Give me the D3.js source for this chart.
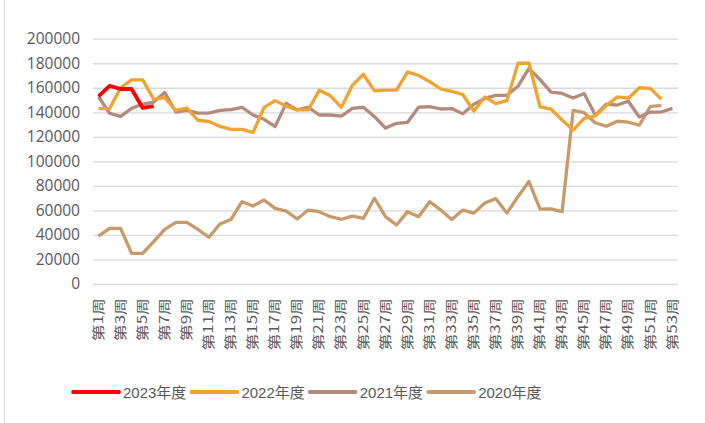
<!DOCTYPE html>
<html>
<head>
<meta charset="utf-8">
<script src="https://cdn.jsdelivr.net/npm/d3@7"></script>
<style>
  html, body { margin: 0; padding: 0; background: #fff; }
  svg { display: block; font-family: "Liberation Sans", "Noto Sans CJK SC", sans-serif; }
</style>
</head>
<body>
<svg id="chart" width="705" height="423"></svg>
<script>
// ---- data ----
const weeks = d3.range(1, 54);
const xTickWeeks = d3.range(1, 54, 2);
const yTicks = [0, 20000, 40000, 60000, 80000, 100000, 120000, 140000, 160000, 180000, 200000];
const seriesNames = ["2023年度", "2022年度", "2021年度", "2020年度"];
const seriesColors = ["#FF0000", "#F0A430", "#B48A7C", "#C89A6A"];

const v2023 = [153000, 161500, 159000, 159000, 143500, 145000];
const v2022 = [143000, 143000, 160000, 166500, 166500, 150500, 152000, 141500, 143500, 133500,
  132500, 128500, 126000, 126000, 123500, 144000, 149500, 145000, 142000, 142000,
  158000, 153500, 144000, 162000, 171000, 157500, 158000, 158000, 173000, 170000,
  165000, 159000, 157000, 154500, 141000, 152500, 147000, 149500, 180000, 180000,
  144500, 142500, 133700, 125500, 135000, 137000, 145500, 152500, 151500, 160000,
  159500, 150500];
const v2021 = [152700, 139200, 136700, 143200, 146700, 148300, 156100, 140200, 141500, 139400,
  139400, 141500, 142200, 144100, 137800, 134300, 128300, 147300, 141900, 144100,
  137800, 137800, 136800, 143200, 144100, 136400, 127200, 131000, 131800, 144100,
  144600, 142700, 143000, 138700, 146600, 151300, 153800, 153800, 161200, 175800,
  166700, 156500, 155400, 151700, 155400, 137700, 146700, 145900, 149000, 136200,
  140200, 140200, 143200];
const v2020 = [39100, 45400, 45400, 25000, 25000, 34500, 44600, 50300, 50300, 44600,
  38100, 48900, 52600, 67100, 63600, 68500, 61700, 59500, 53000, 60300,
  59000, 54900, 52800, 55400, 53600, 69900, 54900, 48100, 59000, 54900,
  67100, 60300, 52500, 60300, 57800, 66000, 69600, 57800, 71200, 83500,
  61100, 61300, 59000, 141500, 139700, 131500, 128600, 132700, 131900, 129600,
  144800, 145500];

const seriesValues = [v2023, v2022, v2021, v2020];

// ---- layout ----
const svg = d3.select("#chart");
const plotLeft = 93, plotRight = 678, plotTop = 38.7, plotBottom = 284;

// outer frame line (left edge)
svg.append("line").attr("x1", 4.5).attr("x2", 4.5).attr("y1", 0).attr("y2", 423)
  .attr("stroke", "#d9d9d9").attr("stroke-width", 1);

const x = d3.scaleBand().domain(weeks).range([plotLeft, plotRight]).padding(0);
const xc = w => x(w) + x.bandwidth() / 2;
const y = d3.scaleLinear().domain([0, 200000]).range([plotBottom, plotTop]);

// y axis with gridlines
const yAxis = svg.append("g")
  .attr("transform", `translate(${plotLeft},0)`)
  .call(d3.axisLeft(y).tickValues(yTicks).tickFormat(d3.format("d"))
    .tickSizeInner(-(plotRight - plotLeft)).tickSizeOuter(0).tickPadding(13));
yAxis.select(".domain").remove();
yAxis.selectAll(".tick line").attr("stroke", "#d9d9d9").attr("stroke-width", 1.3);
yAxis.selectAll(".tick text").attr("fill", "#595959").attr("font-size", "15.5px")
  .attr("font-family", "'Open Sans', 'Liberation Sans', sans-serif");

// x axis labels
const xAxis = svg.append("g")
  .attr("transform", `translate(0,${plotBottom})`)
  .call(d3.axisBottom(x).tickValues(xTickWeeks).tickFormat(d => `第${d}周`).tickSize(0).tickPadding(0));
xAxis.select(".domain").remove();
xAxis.selectAll(".tick text")
  .attr("fill", "#595959")
  .attr("font-size", "13px")
  .attr("font-family", "'Noto Sans CJK SC', sans-serif")
  .attr("text-anchor", "end")
  .attr("dominant-baseline", "central")
  .attr("y", 0).attr("dy", 0)
  .attr("transform", "translate(-1.5,14) rotate(-90) scale(1.3,1)");

// lines
const line = d3.line().x((d, i) => xc(weeks[i])).y(d => y(d));
const drawOrder = [3, 2, 1, 0];
drawOrder.forEach(k => {
  svg.append("path")
    .datum(seriesValues[k])
    .attr("fill", "none")
    .attr("stroke", seriesColors[k])
    .attr("stroke-width", k === 0 ? 3.8 : 3.3)
    .attr("stroke-linejoin", "round")
    .attr("d", line);
});

// legend
const legend = svg.append("g");
let lx = 73;
const ly = 392;
seriesNames.forEach((name, k) => {
  legend.append("line").attr("x1", lx).attr("x2", lx + 46).attr("y1", ly).attr("y2", ly)
    .attr("stroke", seriesColors[k]).attr("stroke-width", 3.8).attr("stroke-linecap", "round");
  const t = legend.append("text").attr("x", lx + 50).attr("y", ly)
    .attr("dominant-baseline", "central")
    .attr("fill", "#595959").attr("font-size", "15px")
    .attr("font-family", "'Liberation Sans', 'Noto Sans CJK SC', sans-serif")
    .text(name);
  const w = t.node().getComputedTextLength();
  lx = lx + 50 + w + 5;
});
</script>
</body>
</html>
